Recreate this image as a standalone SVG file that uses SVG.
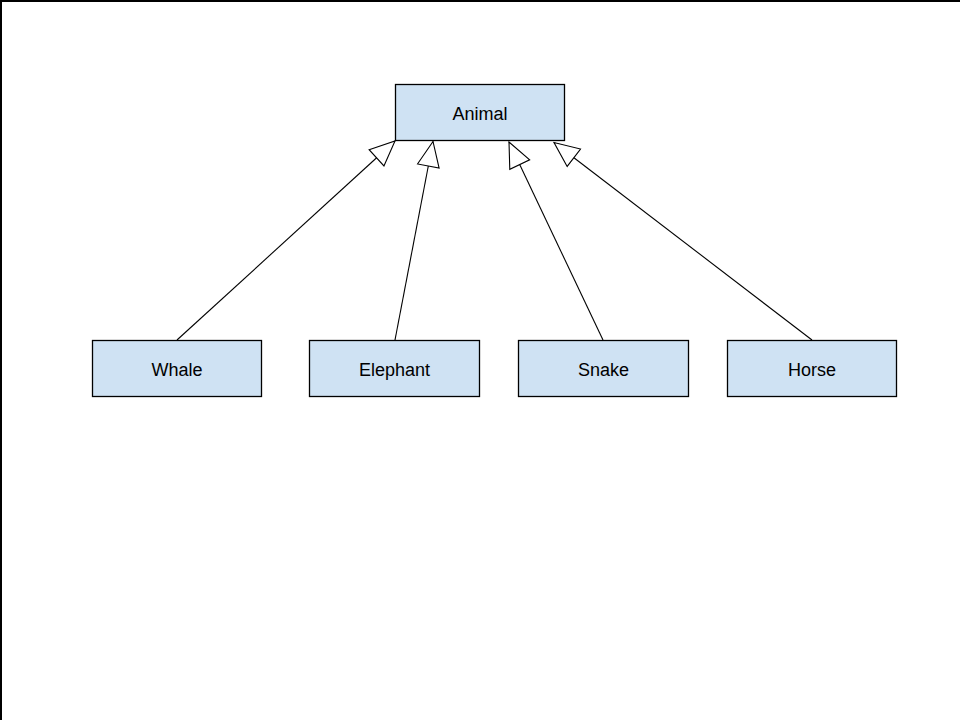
<svg xmlns="http://www.w3.org/2000/svg" width="960" height="720" viewBox="0 0 960 720">
  <style>
    .box { fill: #cfe2f3; stroke: #000; stroke-width: 1.3; }
    .lbl { font-family: "Liberation Sans", Arial, sans-serif; font-size: 18px; fill: #000; text-anchor: middle; dominant-baseline: central; }
    .conn { stroke: #000; stroke-width: 1.1; fill: none; marker-end: url(#tri); }
  </style>
  <defs>
    <marker id="tri" viewBox="0 0 27 24" refX="26" refY="12" markerWidth="27" markerHeight="24" markerUnits="userSpaceOnUse" orient="auto">
      <path d="M1,1 L26,12 L1,23 Z" fill="#fff" stroke="#000" stroke-width="1.1"/>
    </marker>
  </defs>
  <rect x="0" y="0" width="960" height="720" fill="#fff"/>
  <path d="M1,720 L1,1 L960,1" fill="none" stroke="#000" stroke-width="2"/>
  <g id="connectors">
    <line class="conn" x1="177" y1="340" x2="395" y2="141"/>
    <line class="conn" x1="395" y1="340" x2="433" y2="141.5"/>
    <line class="conn" x1="603" y1="340" x2="509" y2="142"/>
    <line class="conn" x1="812" y1="340" x2="554" y2="142.5"/>
  </g>
  <g id="animal">
    <rect class="box" x="395.5" y="84.5" width="169" height="56"/>
    <text class="lbl" x="480" y="113.5">Animal</text>
  </g>
  <g id="whale">
    <rect class="box" x="92.5" y="340.5" width="169" height="56"/>
    <text class="lbl" x="177" y="369.5">Whale</text>
  </g>
  <g id="elephant">
    <rect class="box" x="309.5" y="340.5" width="170" height="56"/>
    <text class="lbl" x="394.5" y="369.5">Elephant</text>
  </g>
  <g id="snake">
    <rect class="box" x="518.5" y="340.5" width="170" height="56"/>
    <text class="lbl" x="603.5" y="369.5">Snake</text>
  </g>
  <g id="horse">
    <rect class="box" x="727.5" y="340.5" width="169" height="56"/>
    <text class="lbl" x="812" y="369.5">Horse</text>
  </g>
</svg>
